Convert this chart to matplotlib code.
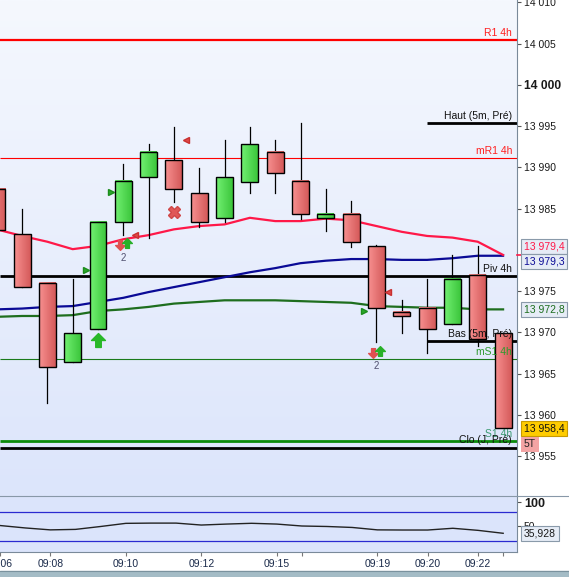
import numpy as np
import matplotlib
matplotlib.use('Agg')
import matplotlib.pyplot as plt
import matplotlib.transforms as mtransforms
from matplotlib.patches import Rectangle
from matplotlib.lines import Line2D
from matplotlib.path import Path
from matplotlib.colors import LinearSegmentedColormap

plt.rcParams['font.family'] = ['Liberation Sans', 'DejaVu Sans']

# axe des temps (une bougie par index)
heures = ['09:06', '09:08', '09:10', '09:12', '09:15', '09:19', '09:20', '09:22']
heures_idx = [0, 2, 5, 8, 11, 15, 17, 19]
ticks_sans_label = [12, 20]

# bougies
ouv = [13987.4, 13981.9, 13976.0, 13966.4, 13970.4, 13983.4, 13988.8, 13990.9, 13986.9, 13983.9, 13988.2,
       13991.9, 13988.4, 13983.9, 13984.4, 13980.5, 13972.5, 13973.0, 13971.0, 13977.0, 13969.9]
hauts = [13987.4, 13985.0, 13976.0, 13976.5, 13983.4, 13990.4, 13992.8, 13994.9, 13989.9, 13993.3, 13994.9,
         13993.3, 13995.4, 13987.4, 13985.9, 13980.6, 13973.9, 13976.5, 13979.4, 13980.5, 13969.9]
bas = [13982.4, 13975.5, 13961.5, 13966.4, 13970.4, 13981.8, 13981.5, 13985.8, 13982.8, 13983.4, 13986.9,
       13986.9, 13983.8, 13982.3, 13980.4, 13968.8, 13969.9, 13967.5, 13971.0, 13968.4, 13958.4]
clo = [13982.4, 13975.5, 13965.8, 13969.9, 13983.4, 13988.4, 13991.9, 13987.4, 13983.4, 13988.8, 13992.8,
       13989.3, 13984.4, 13984.4, 13981.0, 13973.0, 13972.0, 13970.4, 13976.5, 13969.2, 13958.4]

# moyennes mobiles
mm_rouge = [13982.5, 13981.7, 13981.0, 13980.1, 13980.5, 13981.3, 13981.8, 13982.5, 13982.9, 13983.1, 13983.9,
            13983.5, 13983.5, 13983.8, 13983.6, 13982.9, 13982.2, 13981.7, 13981.5, 13981.0, 13979.4]
mm_bleue = [13972.8, 13972.9, 13973.1, 13973.2, 13973.7, 13974.2, 13974.9, 13975.5, 13976.1, 13976.7, 13977.3,
            13977.8, 13978.4, 13978.7, 13978.9, 13978.9, 13978.8, 13978.8, 13979.0, 13979.3, 13979.3]
mm_verte = [13971.9, 13972.0, 13972.0, 13972.1, 13972.6, 13972.8, 13973.1, 13973.5, 13973.7, 13973.9, 13973.9,
            13973.9, 13973.8, 13973.7, 13973.6, 13973.2, 13973.1, 13973.0, 13973.0, 13972.8, 13972.8]

# oscillateur (panneau du bas)
stoch = [52, 47, 43, 44, 50, 56.5, 57, 57, 53, 55, 56.6, 55, 51, 50, 48, 43, 42.7, 42.7, 46.3, 42, 35.928]
stoch_niveaux = [80, 20]

# niveaux horizontaux
niveaux_noms = ['R1 4h', 'mR1 4h', 'Haut (5m, Pré)', 'Piv 4h', 'Bas (5m, Pré)', 'mS1 4h', 'S1 4h', 'Clo (J, Pré)']
niveaux_prix = [14005.5, 13991.15, 13995.4, 13976.8, 13969.0, 13966.8, 13956.8, 13956.05]
niveaux_debut = [None, None, 17, None, 17, None, None, None]

# signaux
tri_vert_idx = [5, 4, 15]
tri_vert_prix = [13987.0, 13977.6, 13972.6]
tri_rouge_idx = [7, 5, 15]
tri_rouge_prix = [13993.3, 13981.8, 13974.9]
croix_idx = [7]
croix_prix = [13984.6]
fleches_idx = [5, 15]
fleches_prix = [13980.6, 13967.5]
fleches_n = ['2', '2']
grosse_fleche_idx = [4]
grosse_fleche_prix = [13969.1]

# styles des niveaux
niv_couleurs = ['#ff0000', '#ff0000', '#000000', '#000000', '#000000', '#1a7a1a', '#0a8a0a', '#000000']
niv_lw = [1.6, 0.8, 2.0, 2.0, 2.0, 0.8, 2.0, 2.0]
niv_txt = ['#ff2020', '#ff2020', '#111111', '#111111', '#111111', '#2e9a2e', '#3a9a70', '#111111']

W, H = 569, 577
fig = plt.figure(figsize=(W / 100, H / 100), dpi=100)
fig.patch.set_facecolor('white')

ax = fig.add_axes([0, 81 / H, 517 / W, 496 / H])
ax2 = fig.add_axes([0, 25 / H, 517 / W, 56 / H])

x = np.arange(len(ouv))
xlim = (0.13, 20.55)

# fond en degrade
fond = LinearSegmentedColormap.from_list('fond', ['#f5f8fe', '#dce5fb'])
ax.imshow(np.linspace(0, 1, 256).reshape(-1, 1), extent=[0, 1, 0, 1], transform=ax.transAxes,
          cmap=fond, aspect='auto', zorder=0)

# niveaux
for nom, p, d, c, lw, tc in zip(niveaux_noms, niveaux_prix, niveaux_debut, niv_couleurs, niv_lw, niv_txt):
    x0 = d if d is not None else xlim[0]
    ax.plot([x0, xlim[1]], [p, p], color=c, lw=lw, zorder=2, solid_capstyle='butt')
    ax.annotate(nom, xy=(20.35, p), xytext=(0, 1.5), textcoords='offset points', ha='right', va='bottom',
                color=tc, fontsize=7.5, zorder=6)

# moyennes mobiles
ax.plot(x, mm_verte, color='#1e6e1e', lw=1.6, zorder=3)
ax.plot(x, mm_bleue, color='#0a0a96', lw=1.6, zorder=3)
ax.plot(x, mm_rouge, color='#ff1848', lw=1.6, zorder=3)

# bougies
rouge_cm = LinearSegmentedColormap.from_list('r', ['#f79090', '#d55a5a'])
vert_cm = LinearSegmentedColormap.from_list('v', ['#72f072', '#3cc63c'])
grad = np.linspace(0, 1, 32).reshape(1, -1)
w = 0.67
for i in range(len(ouv)):
    o, h, l, c = ouv[i], hauts[i], bas[i], clo[i]
    lo, hi = min(o, c), max(o, c)
    ax.plot([i, i], [l, h], color='black', lw=0.9, zorder=4)
    cm = vert_cm if c > o else rouge_cm
    ax.imshow(grad, extent=[i - w / 2, i + w / 2, lo, hi], cmap=cm, aspect='auto', zorder=5)
    ax.add_patch(Rectangle((i - w / 2, lo), w, hi - lo, fill=False, edgecolor='black', lw=1.0, zorder=5))

# signaux
fleche_haut = Path([(0, 1), (1, 0), (0.4, 0), (0.4, -1), (-0.4, -1), (-0.4, 0), (-1, 0), (0, 1)],
                   [Path.MOVETO] + [Path.LINETO] * 6 + [Path.CLOSEPOLY])
fleche_bas = Path([(0, -1), (1, 0), (0.4, 0), (0.4, 1), (-0.4, 1), (-0.4, 0), (-1, 0), (0, -1)],
                  [Path.MOVETO] + [Path.LINETO] * 6 + [Path.CLOSEPOLY])

ax.plot(np.array(tri_vert_idx) - 0.48, tri_vert_prix, ls='none', marker='>', ms=5, color='#2aa82a',
        mec='#1c8c1c', zorder=7)
ax.plot(np.array(tri_rouge_idx) + 0.47, tri_rouge_prix, ls='none', marker='<', ms=5, color='#e04848',
        mec='#c83030', zorder=7)
ax.plot(croix_idx, croix_prix, ls='none', marker='X', ms=8, color='#e05858', mec='#d04848', zorder=7)
ax.plot(np.array(fleches_idx) - 0.12, fleches_prix, ls='none', marker=fleche_bas, ms=7, color='#e05050',
        mec='#e05050', zorder=7)
ax.plot(np.array(fleches_idx) + 0.14, np.array(fleches_prix) + 0.25, ls='none', marker=fleche_haut, ms=7,
        color='#28b028', mec='#28b028', zorder=7)
for i, p, n in zip(fleches_idx, fleches_prix, fleches_n):
    ax.annotate(n, xy=(i, p), xytext=(0, -9), textcoords='offset points', ha='center', va='center',
                fontsize=7, color='#505070', zorder=7)
ax.plot(grosse_fleche_idx, grosse_fleche_prix, ls='none', marker=fleche_haut, ms=10, color='#28b828',
        mec='#28b828', zorder=7)

ax.set_xlim(*xlim)
ax.set_ylim(13950.18, 14010.30)
ax.set_xticks([])
ticks_prix = [13955, 13960, 13965, 13970, 13975, 13985, 13990, 13995, 14000, 14005, 14010]
ax.set_yticks(ticks_prix)
ax.set_yticklabels([f'{t:,}'.replace(',', ' ') for t in ticks_prix])
ax.yaxis.tick_right()
ax.tick_params(axis='y', direction='out', length=3, width=0.8, color='#555555', labelsize=7.5,
               labelcolor='#1a1a1a', pad=2)
for lab in ax.get_yticklabels():
    if lab.get_text() == '14 000':
        lab.set_fontweight('bold')
        lab.set_fontsize(8.7)
for s in ['top', 'left', 'bottom']:
    ax.spines[s].set_visible(False)
ax.spines['right'].set_color('#7a8a9a')

# etiquettes de prix a droite
trans = mtransforms.blended_transform_factory(ax.transAxes, ax.transData)
boite = dict(boxstyle='square,pad=0.25', fc='#e6ecf6', ec='#8a9aaa', lw=0.8)
ax.plot([1.0, 1.009], [mm_rouge[-1]] * 2, color='#ff1848', lw=1.2, transform=trans, clip_on=False, zorder=8)
for val, col, dy in [(mm_rouge[-1], '#ff1848', 5.8), (mm_bleue[-1], '#0a0a96', -4.3), (mm_verte[-1], '#1e6e1e', 0)]:
    ax.annotate(f'{val:,.1f}'.replace(',', ' ').replace('.', ','), xy=(1.0, val), xycoords=trans,
                xytext=(5, dy), textcoords='offset points', ha='left', va='center', fontsize=7.5,
                color=col, bbox=boite, annotation_clip=False, zorder=9)
ax.annotate(f'{clo[-1]:,.1f}'.replace(',', ' ').replace('.', ','), xy=(1.0, clo[-1]), xycoords=trans,
            xytext=(5, 0), textcoords='offset points', ha='left', va='center', fontsize=7.5, color='#111111',
            bbox=dict(boxstyle='square,pad=0.25', fc='#ffcc00', ec='#c89a00', lw=0.8),
            annotation_clip=False, zorder=9)
ax.annotate('5T', xy=(1.0, clo[-1]), xycoords=trans, xytext=(5, -11.5), textcoords='offset points',
            ha='left', va='center', fontsize=7.5, color='#222222',
            bbox=dict(boxstyle='square,pad=0.25', fc='#f4a4a4', ec='none'), annotation_clip=False, zorder=9)

# panneau du bas
ax2.set_facecolor('#dbe4fb')
for v in stoch_niveaux:
    ax2.axhline(v, color='#2a2ad0', lw=0.9)
ax2.plot(x, stoch, color='#222222', lw=1.0)
ax2.set_xlim(*xlim)
ax2.set_ylim(-2.8, 113.1)
ax2.yaxis.tick_right()
ax2.set_yticks([50, 100])
ax2.set_yticklabels(['50', '100'])
ax2.tick_params(axis='y', direction='out', length=3, width=0.8, color='#555555', labelsize=7.5,
                labelcolor='#1a1a1a', pad=2)
lab100 = ax2.get_yticklabels()[1]
lab100.set_fontweight('bold')
lab100.set_fontsize(9)
ax2.set_xticks(heures_idx + ticks_sans_label)
ax2.set_xticklabels(heures + [''] * len(ticks_sans_label))
ax2.tick_params(axis='x', direction='out', length=3, width=0.8, color='#777777', labelsize=7.5,
                labelcolor='#1a2a4a', pad=2)
ax2.spines['left'].set_visible(False)
ax2.spines['top'].set_visible(False)
for s in ['right', 'bottom']:
    ax2.spines[s].set_color('#7a8a9a')
trans2 = mtransforms.blended_transform_factory(ax2.transAxes, ax2.transData)
ax2.annotate(f'{stoch[-1]:.3f}'.replace('.', ','), xy=(1.0, stoch[-1]), xycoords=trans2,
             xytext=(5, 0), textcoords='offset points', ha='left', va='center', fontsize=7.5,
             color='#1a1a1a', bbox=boite, annotation_clip=False, zorder=9)

# separateur et bande grise en bas
fig.add_artist(Line2D([0, 1], [81 / H, 81 / H], color='#8898a8', lw=0.8))
fig.patches.append(Rectangle((0, 0), 1, 6 / H, transform=fig.transFigure, color='#a4bcc6', zorder=0))
fig.add_artist(Line2D([0, 1], [6 / H, 6 / H], color='#7a929e', lw=0.8))

fig.savefig('out.png', dpi=100)
